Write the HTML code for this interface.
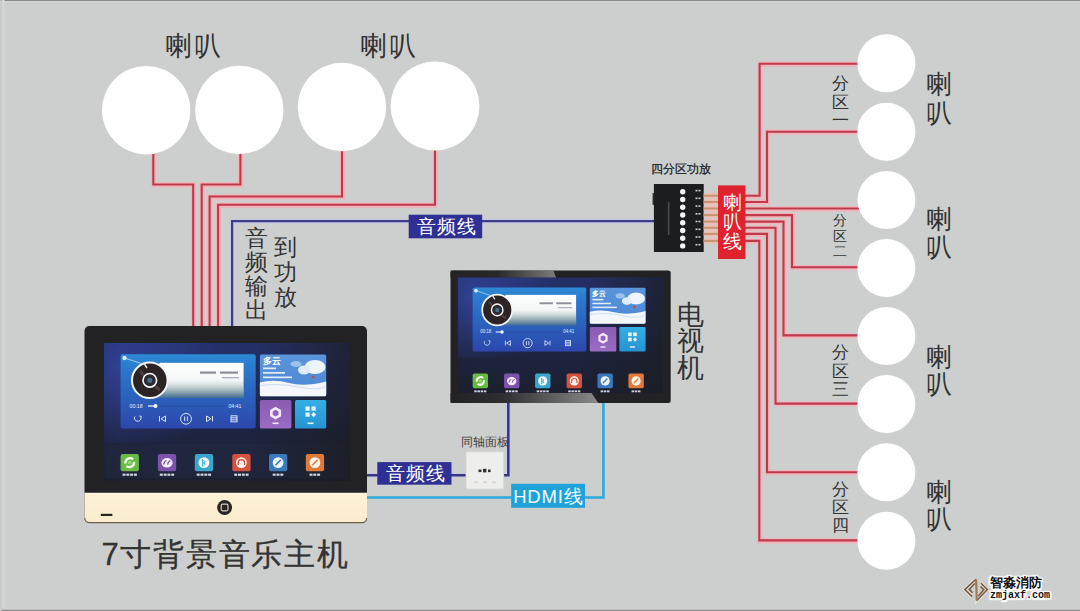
<!DOCTYPE html>
<html><head><meta charset="utf-8">
<style>
html,body{margin:0;padding:0;}
body{width:1080px;height:611px;overflow:hidden;position:relative;background:#cdcfce;font-family:"Liberation Sans",sans-serif;}
svg{position:absolute;left:0;top:0;}
.t{position:absolute;white-space:nowrap;line-height:1;color:#333;}
.v{position:absolute;line-height:1;color:#333;width:1em;word-break:break-all;white-space:normal;}
</style></head><body>
<svg width="1080" height="611" viewBox="0 0 1080 611">
<defs>
  <linearGradient id="mcard" x1="0" y1="0" x2="0" y2="1">
    <stop offset="0" stop-color="#2c8ad6"/><stop offset="0.2" stop-color="#2b78cc"/><stop offset="1" stop-color="#2c47ac"/>
  </linearGradient>
  <linearGradient id="wcard" x1="0" y1="0" x2="0" y2="1">
    <stop offset="0" stop-color="#5b95dc"/><stop offset="1" stop-color="#4a86d4"/>
  </linearGradient>
  <linearGradient id="sea" x1="0" y1="0" x2="0" y2="1">
    <stop offset="0" stop-color="#ffffff"/><stop offset="0.5" stop-color="#f4f6f6"/><stop offset="0.62" stop-color="#d8e0e2"/><stop offset="0.8" stop-color="#a2b8bf"/><stop offset="1" stop-color="#5a86a0"/>
  </linearGradient>
  <linearGradient id="screen" x1="0" y1="0" x2="0" y2="1">
    <stop offset="0" stop-color="#25306a"/><stop offset="0.35" stop-color="#202a55"/><stop offset="0.65" stop-color="#1d2440"/><stop offset="1" stop-color="#1b1f2e"/>
  </linearGradient>
  <linearGradient id="scrfade" x1="0" y1="0" x2="1" y2="0">
    <stop offset="0" stop-color="#1c1d21" stop-opacity="0.1"/><stop offset="0.06" stop-color="#1c1d21" stop-opacity="0"/><stop offset="0.6" stop-color="#1c1d21" stop-opacity="0"/><stop offset="1" stop-color="#1c1d21" stop-opacity="0.7"/>
  </linearGradient>
  <linearGradient id="sheen" x1="0" y1="0" x2="1" y2="0">
    <stop offset="0" stop-color="#222225"/><stop offset="0.45" stop-color="#2a2a2c"/><stop offset="1" stop-color="#8c8c8c"/>
  </linearGradient>
  <linearGradient id="sheen2" x1="0" y1="0" x2="1" y2="0">
    <stop offset="0" stop-color="#222225"/><stop offset="0.35" stop-color="#303032"/><stop offset="1" stop-color="#959595"/>
  </linearGradient>
</defs>
<!-- frame edges -->
<rect x="0" y="0" width="1080" height="1.2" fill="#8a8a8a"/><rect x="0" y="1.2" width="1080" height="1.5" fill="#d6d8d7"/><rect x="0" y="3" width="1080" height="1.2" fill="#c6c8c7" opacity="0.7"/>
<rect x="0" y="609.8" width="1080" height="1.2" fill="#8a8a8a"/><rect x="0" y="0" width="1.5" height="611" fill="#c8cac9"/><rect x="2" y="0" width="2.6" height="609" fill="#d5d7d6"/>

<!-- red wires top -->
<g fill="none" stroke-linejoin="miter">
 <g stroke="#f3b3b9" stroke-width="5.2" transform="translate(0.4,0.4)">
  <path d="M153.3,150 V184.5 H193.2 V326"/>
  <path d="M240.4,150 V184.5 H201.7 V326"/>
  <path d="M342,148 V196.5 H209.6 V326"/>
  <path d="M435,148 V204.7 H218.1 V326"/>
 </g>
 <g stroke="#bd3a4c" stroke-width="2.1">
  <path d="M153.3,150 V184.5 H193.2 V326"/>
  <path d="M240.4,150 V184.5 H201.7 V326"/>
  <path d="M342,148 V196.5 H209.6 V326"/>
  <path d="M435,148 V204.7 H218.1 V326"/>
 </g>
</g>
<!-- blue audio line -->
<path d="M232.1,326 V221.2 H654" fill="none" stroke="#c8c8ee" stroke-width="4"/>
<path d="M232.1,326 V221.2 H654" fill="none" stroke="#3d3e86" stroke-width="2.3"/>

<!-- right wires -->
<g fill="none">
 <g stroke="#f3b3b9" stroke-width="5.2" transform="translate(0.4,0.4)">
  <path d="M740,195.7 H759.6 V63.7 H860"/>
  <path d="M740,202 H767 V131.7 H860"/>
  <path d="M740,208.5 H860"/>
  <path d="M740,215.1 H792 V267.2 H860"/>
  <path d="M740,221.6 H783.5 V335.4 H860"/>
  <path d="M740,227.8 H775.5 V403.6 H860"/>
  <path d="M740,233.9 H767 V472.2 H860"/>
  <path d="M740,240.9 H759.3 V540.4 H860"/>
 </g>
 <g stroke="#bd3a4c" stroke-width="2.1">
  <path d="M740,195.7 H759.6 V63.7 H860"/>
  <path d="M740,202 H767 V131.7 H860"/>
  <path d="M740,208.5 H860"/>
  <path d="M740,215.1 H792 V267.2 H860"/>
  <path d="M740,221.6 H783.5 V335.4 H860"/>
  <path d="M740,227.8 H775.5 V403.6 H860"/>
  <path d="M740,233.9 H767 V472.2 H860"/>
  <path d="M740,240.9 H759.3 V540.4 H860"/>
 </g>
</g>

<!-- top circles -->
<g fill="#ffffff">
 <circle cx="146.2" cy="110.2" r="44.2"/>
 <circle cx="239.3" cy="109.9" r="44.2"/>
 <circle cx="342" cy="107" r="44.2"/>
 <circle cx="435" cy="106" r="44.4"/>
</g>
<!-- right circles -->
<g fill="#ffffff">
 <circle cx="886.4" cy="63.3" r="29"/>
 <circle cx="886.4" cy="131.7" r="29"/>
 <circle cx="886.4" cy="200" r="29"/>
 <circle cx="886.4" cy="268" r="29"/>
 <circle cx="886.4" cy="336" r="29"/>
 <circle cx="886.4" cy="404" r="29"/>
 <circle cx="886.4" cy="472.3" r="29"/>
 <circle cx="886.4" cy="540.8" r="29"/>
</g>

<!-- lower lines: audio (blue) and HDMI (cyan) -->
<path d="M367,475.3 H466 M503.7,475.3 H508.3 V403" fill="none" stroke="#c8c8ee" stroke-width="4.4"/>
<path d="M367,475.3 H466 M503.7,475.3 H508.3 V403" fill="none" stroke="#38397e" stroke-width="2.6"/>
<path d="M367,497.5 H603.4 V403" fill="none" stroke="#2ba8de" stroke-width="2.6"/>

<!-- amp box -->
<rect x="653.9" y="184" width="49.8" height="68" fill="#1b1d1f"/>
<rect x="652.6" y="193" width="1.6" height="12" fill="#2a2c2e"/>
<g fill="#f4f4f4"><circle cx="682.7" cy="191.8" r="2.7"/><circle cx="682.7" cy="199.5" r="2.7"/><circle cx="682.7" cy="207.3" r="2.7"/><circle cx="682.7" cy="215.0" r="2.7"/><circle cx="682.7" cy="222.7" r="2.7"/><circle cx="682.7" cy="230.5" r="2.7"/><circle cx="682.7" cy="238.2" r="2.7"/><circle cx="682.7" cy="245.9" r="2.7"/></g>
<g fill="#cfd0d0"><rect x="695.5" y="189.8" width="2" height="1.6"/><rect x="698.5" y="189.8" width="2" height="1.6"/><rect x="695.5" y="197.5" width="2" height="1.6"/><rect x="698.5" y="197.5" width="2" height="1.6"/><rect x="695.5" y="205.3" width="2" height="1.6"/><rect x="698.5" y="205.3" width="2" height="1.6"/><rect x="695.5" y="213.0" width="2" height="1.6"/><rect x="698.5" y="213.0" width="2" height="1.6"/><rect x="695.5" y="220.7" width="2" height="1.6"/><rect x="698.5" y="220.7" width="2" height="1.6"/><rect x="695.5" y="228.5" width="2" height="1.6"/><rect x="698.5" y="228.5" width="2" height="1.6"/><rect x="695.5" y="236.2" width="2" height="1.6"/><rect x="698.5" y="236.2" width="2" height="1.6"/><rect x="695.5" y="243.9" width="2" height="1.6"/><rect x="698.5" y="243.9" width="2" height="1.6"/></g>
<rect x="667.8" y="202" width="1.6" height="33" fill="#55585a" opacity="0.8"/>
<!-- amp connectors -->
<g stroke="#efbcb4" stroke-width="5.4"><path d="M703.7,195.7 H719"/><path d="M703.7,202 H719"/><path d="M703.7,208.5 H719"/><path d="M703.7,215.1 H719"/><path d="M703.7,221.6 H719"/><path d="M703.7,227.8 H719"/><path d="M703.7,233.9 H719"/><path d="M703.7,240.9 H719"/></g>
<g stroke="#c49470" stroke-width="2"><path d="M703.7,195.7 H719"/><path d="M703.7,202 H719"/><path d="M703.7,208.5 H719"/><path d="M703.7,215.1 H719"/><path d="M703.7,221.6 H719"/><path d="M703.7,227.8 H719"/><path d="M703.7,233.9 H719"/><path d="M703.7,240.9 H719"/></g>
<!-- speaker wire label -->
<rect x="718" y="185.4" width="27.5" height="73.6" fill="#e0222e"/>

<!-- ===== host device ===== -->
<defs>
 <symbol id="scr" viewBox="0 0 246 138" preserveAspectRatio="none">
  <!-- music card -->
  <rect x="16.6" y="11.3" width="135.1" height="74.3" rx="2" fill="url(#mcard)"/>
  <rect x="55.5" y="19.8" width="84.1" height="35.2" fill="url(#sea)"/>
  <rect x="55.5" y="42" width="84.1" height="13" fill="url(#sea2)" opacity="0.6"/>
  <g fill="#8b8f98"><rect x="96" y="28.5" width="16" height="2.2"/><rect x="116" y="28.5" width="18" height="2.2"/><rect x="118" y="34" width="17" height="1.3" fill="#aab"/></g>
  <path d="M20.5,15 L42,22" stroke="#bfe0ff" stroke-width="0.8"/>
  <circle cx="20.5" cy="15" r="2.2" fill="#d8ecff"/>
  <circle cx="45.8" cy="37.3" r="17.8" fill="#2c2325" stroke="#f2f6fa" stroke-width="2"/>
  <path d="M36,28 Q46,40 56,47" stroke="#6a5856" stroke-width="3" opacity="0.5" fill="none"/>
  <circle cx="45.8" cy="37.3" r="6.8" fill="#2a2a30" stroke="#f4f6f8" stroke-width="1.7"/>
  <circle cx="45.8" cy="37.3" r="2.6" fill="#4a6a8a"/>
  <path d="M39.5,19.5 L43,25" stroke="#e8e8e8" stroke-width="1.4"/>
  <text x="25.6" y="64.6" font-size="5.2" fill="#e6eefc" font-family="Liberation Sans">00:18</text>
  <path d="M44,63 H122" stroke="#2a4aa0" stroke-width="0.8"/>
  <path d="M44,63 H51" stroke="#ffffff" stroke-width="1.2"/>
  <circle cx="51.5" cy="63" r="2" fill="#ffffff"/>
  <text x="124.4" y="64.6" font-size="5.2" fill="#e6eefc" font-family="Liberation Sans">04:41</text>
  <g stroke="#d8e6fb" stroke-width="1" fill="none">
   <path d="M31,73.5 a3.3,3 0 1 0 6,1.5"/><path d="M35.5,73 l1.8,0.3 l-0.4,1.6"/>
   <path d="M55.5,73 v5.5 M61.5,73 l-4.5,2.75 l4.5,2.75 z"/>
   <circle cx="82" cy="75.8" r="5.4"/><path d="M80.6,73.5 v4.6 M83.4,73.5 v4.6"/>
   <path d="M108.5,73 v5.5 M102.5,73 l4.5,2.75 l-4.5,2.75 z"/>
   <rect x="127" y="72.8" width="6" height="6"/><path d="M127,74.8 h6 M127,76.8 h6"/>
  </g>
  <!-- weather -->
  <rect x="155.9" y="11.5" width="66.3" height="41.7" rx="1.5" fill="url(#wcard)"/>
  <path d="M155.9,39.5 Q170,36 185,40 T222.2,38.5 V51.7 a1.5,1.5 0 0 1 -1.5,1.5 H157.4 a1.5,1.5 0 0 1 -1.5,-1.5 z" fill="#f3f7fc"/>
  <path d="M155.9,42.5 Q175,40 195,44 T222.2,43" fill="none" stroke="#cfe0f4" stroke-width="1.2"/>
  <ellipse cx="211" cy="24" rx="10.5" ry="7" fill="#eef4fb"/>
  <ellipse cx="200" cy="27" rx="6" ry="4.5" fill="#e2ecf8"/>
  <ellipse cx="192" cy="21" rx="5.5" ry="3" fill="#9fc2ec"/>
  <circle cx="209" cy="34" r="1.5" fill="#d04848"/>
  <text x="159" y="20.8" font-size="8.5" fill="#ffffff" font-weight="bold">多云</text>
  <g fill="#e4eefb"><rect x="159" y="24.5" width="13" height="1.7"/><rect x="159" y="29" width="22" height="1.7"/><rect x="159" y="33.5" width="29" height="1.7"/></g>
  <!-- tiles -->
  <rect x="155.9" y="57" width="31.5" height="28.6" rx="1.5" fill="url(#purp)"/>
  <path d="M171.6,65.3 l4.2,2.4 v4.9 l-4.2,2.4 l-4.2,-2.4 v-4.9 z" fill="none" stroke="#f4eafc" stroke-width="2.6"/>
  <rect x="168.5" y="79.5" width="6" height="1.6" fill="#f0e6f8"/>
  <rect x="191" y="57" width="31.2" height="28.6" rx="1.5" fill="url(#cyan)"/>
  <g fill="#eaf6fc"><rect x="201.5" y="63.5" width="4.2" height="4.2"/><rect x="207.5" y="63.5" width="4.2" height="4.2"/><rect x="201.5" y="69.5" width="4.2" height="4.2"/><path d="M209.6,69 l2.5,2.6 l-2.5,2.6 l-2.5,-2.6 z"/><rect x="203.5" y="79.5" width="6" height="1.6"/></g>
  <!-- dock icons -->
  <g>
   <rect x="16.6" y="111" width="18.3" height="17.2" rx="2" fill="#68ba44"/>
   <rect x="53.9" y="111" width="18.3" height="17.2" rx="2" fill="#7d52aa"/>
   <rect x="90.8" y="111" width="18.3" height="17.2" rx="2" fill="#3aa6cc"/>
   <rect x="128.3" y="111" width="18.3" height="17.2" rx="2" fill="#d6523e"/>
   <rect x="165" y="111" width="18.3" height="17.2" rx="2" fill="#3b78bc"/>
   <rect x="201.8" y="111" width="18.3" height="17.2" rx="2" fill="#df7a3a"/>
  </g>
  <g fill="none" stroke="#f4fff0" stroke-width="2.4">
   <path d="M21.5,120.5 a4.6,4.6 0 0 1 7.5,-4.2"/><path d="M30,118.8 a4.6,4.6 0 0 1 -7.5,4.2"/>
  </g>
  <circle cx="25.7" cy="119.6" r="1.8" fill="#9ad878"/>
  <ellipse cx="63" cy="119.8" rx="5.6" ry="4.8" fill="#f6eefc"/>
  <path d="M59.5,121.5 q1.5,-4 3,-3.5 M63.5,121.5 q1.5,-4 3,-3.5" stroke="#7d52aa" stroke-width="1.3" fill="none"/>
  <circle cx="99.9" cy="119.6" r="5.4" fill="#eefaff"/>
  <path d="M98.4,116.6 l3,2.2 l-3,2.2 M98.4,116.2 v7 l3,-2.2 l-3,-2.2" stroke="#3aa6cc" stroke-width="0.9" fill="none"/>
  <circle cx="137.4" cy="119.6" r="5.4" fill="#fff2ee"/>
  <path d="M134.2,122 v-2 a3.2,3.2 0 0 1 6.4,0 v2" stroke="#d6523e" stroke-width="1.4" fill="none"/>
  <circle cx="174.1" cy="119.6" r="5.4" fill="#eef4fc"/>
  <path d="M171.4,122.3 l5.4,-5.4" stroke="#3b78bc" stroke-width="1.5"/>
  <circle cx="210.9" cy="119.6" r="5.4" fill="#fff4ea"/>
  <path d="M208.2,122.3 l5.4,-5.4" stroke="#df7a3a" stroke-width="1.5"/>
  <g fill="#e2e6ee" opacity="0.9">
   <rect x="18.5" y="130.6" width="3" height="2.2"/><rect x="22.3" y="130.6" width="3" height="2.2"/><rect x="26.1" y="130.6" width="3" height="2.2"/><rect x="29.9" y="130.6" width="3" height="2.2"/>
   <rect x="55.8" y="130.6" width="3" height="2.2"/><rect x="59.6" y="130.6" width="3" height="2.2"/><rect x="63.4" y="130.6" width="3" height="2.2"/><rect x="67.2" y="130.6" width="3" height="2.2"/>
   <rect x="92.7" y="130.6" width="3" height="2.2"/><rect x="96.5" y="130.6" width="3" height="2.2"/><rect x="100.3" y="130.6" width="3" height="2.2"/><rect x="104.1" y="130.6" width="3" height="2.2"/>
   <rect x="130.2" y="130.6" width="3" height="2.2"/><rect x="134" y="130.6" width="3" height="2.2"/><rect x="137.8" y="130.6" width="3" height="2.2"/><rect x="141.6" y="130.6" width="3" height="2.2"/>
   <rect x="168.7" y="130.6" width="3" height="2.2"/><rect x="172.5" y="130.6" width="3" height="2.2"/><rect x="176.3" y="130.6" width="3" height="2.2"/>
   <rect x="205.5" y="130.6" width="3" height="2.2"/><rect x="209.3" y="130.6" width="3" height="2.2"/><rect x="213.1" y="130.6" width="3" height="2.2"/>
  </g>
 </symbol>
 <linearGradient id="sea2" x1="0" y1="0" x2="0" y2="1">
  <stop offset="0" stop-color="#c8d6da" stop-opacity="0"/><stop offset="0.4" stop-color="#9fb2b8"/><stop offset="1" stop-color="#2f5f86"/>
 </linearGradient>
 <linearGradient id="purp" x1="0" y1="0" x2="0" y2="1"><stop offset="0" stop-color="#8a5bb2"/><stop offset="1" stop-color="#9c6cc4"/></linearGradient>
 <linearGradient id="cyan" x1="0" y1="0" x2="0" y2="1"><stop offset="0" stop-color="#34b0e4"/><stop offset="1" stop-color="#2692d2"/></linearGradient>
 <radialGradient id="scrglow" cx="0.1" cy="0.25" r="0.9"><stop offset="0" stop-color="#3446a4" stop-opacity="0.75"/><stop offset="1" stop-color="#3446a4" stop-opacity="0"/></radialGradient>
 <linearGradient id="cream" x1="0" y1="0" x2="0" y2="1"><stop offset="0" stop-color="#fdf4de"/><stop offset="0.15" stop-color="#fdf1d6"/><stop offset="1" stop-color="#fcecce"/></linearGradient>
</defs>
<path d="M89.5,326 H362 a5,5 0 0 1 5,5 V518 a5,5 0 0 1 -5,5 H89.5 a5,5 0 0 1 -5,-5 V331 a5,5 0 0 1 5,-5 z" fill="#222224"/>
<path d="M84.5,492.7 H367 V518 a5,5 0 0 1 -5,5 H89.5 a5,5 0 0 1 -5,-5 z" fill="url(#cream)"/>
<path d="M84.8,518 a4.7,4.7 0 0 0 4.7,4.6 H362 a4.7,4.7 0 0 0 4.7,-4.6" fill="none" stroke="#6e5e4a" stroke-width="1.1"/>
<rect x="104" y="343" width="246" height="138" fill="url(#screen)"/>
<rect x="104" y="343" width="120" height="100" fill="url(#scrglow)"/>
<rect x="104.5" y="443.7" width="244" height="34.5" fill="#202840" opacity="0.8"/>
<rect x="104" y="343" width="246" height="138" fill="url(#scrfade)"/>
<use href="#scr" x="104" y="343" width="246" height="138"/>
<circle cx="224.6" cy="507.5" r="7.4" fill="#2a2420"/>
<rect x="221.2" y="504.2" width="6.8" height="6.6" rx="1.5" fill="none" stroke="#d8d0c0" stroke-width="1.2"/>
<rect x="100.8" y="513.8" width="11.6" height="2.2" fill="#2a2620"/>

<!-- ===== TV ===== -->
<rect x="450.5" y="270.4" width="220.2" height="132.6" rx="2.5" fill="#222225"/>
<path d="M450.5,270.4 H553.5 L556,277.8 H450.5 z" fill="url(#sheen)" opacity="0.85"/>
<rect x="457.9" y="277.6" width="204.7" height="115.5" fill="url(#screen)"/>
<rect x="457.9" y="277.6" width="100" height="80" fill="url(#scrglow)"/>
<rect x="457.9" y="277.6" width="204.7" height="115.5" fill="url(#scrfade)"/>
<use href="#scr" x="458.7" y="277.76" width="206.9" height="119"/>
<path d="M450.5,393.1 H591.5 L598.3,403 H450.5 z" fill="url(#sheen2)" opacity="0.9"/>

<!-- labels -->
<rect x="408.7" y="214.7" width="73.5" height="23.6" fill="#2f3094"/>
<rect x="377.3" y="462.1" width="74.2" height="22.6" fill="#2f3094"/>
<rect x="511.2" y="483.8" width="73.8" height="24" fill="#1fa2da"/>
<!-- coax panel -->
<rect x="466" y="451.8" width="37.7" height="37.2" fill="#eeeeec"/>
<rect x="466" y="451.8" width="37.7" height="37.2" fill="none" stroke="#d6d6d4" stroke-width="0.8"/>
<rect x="478.5" y="469.5" width="3" height="2.6" fill="#333"/><rect x="483" y="468.8" width="3.4" height="3.6" fill="#333"/><rect x="488" y="469.5" width="2.6" height="2.6" fill="#333"/>
<g fill="#d2d2d0"><rect x="474" y="481.5" width="4" height="1.5"/><rect x="483" y="481.5" width="4" height="1.5"/><rect x="492" y="481.5" width="4" height="1.5"/></g>

<!-- watermark logo -->
<g fill="none" stroke="#f4efe6" stroke-width="3.6" stroke-linejoin="miter" opacity="0.55">
 <path d="M976.2,579 L964.8,589.6 L972.2,596.6 M976.2,579 L976.6,600.8 L987.4,589.6 L981,583.2"/>
</g>
<g fill="none" stroke="#7a5a3c" stroke-width="1.5" stroke-linejoin="miter">
 <path d="M976.2,579 L964.8,589.6 L972.2,596.6"/>
 <path d="M974.8,583.6 L969.2,589.4 L972.6,592.8"/>
 <path d="M976.6,600.8 L987.4,589.6 L981,583.2"/>
 <path d="M978.2,596.2 L983.8,589.8 L980.6,586.6"/>
</g>
<path d="M975,579.5 L977.4,579.5 L977.8,600.5 L975.6,600.5 z" fill="#9a7a58"/>
</svg>

<!-- texts -->
<div class="t" style="left:165px;top:33px;font-size:26.5px;letter-spacing:2px;">喇叭</div>
<div class="t" style="left:360px;top:33px;font-size:26.5px;letter-spacing:2px;">喇叭</div>
<div class="v" style="left:245px;top:225.8px;font-size:23px;line-height:24.2px;">音频输出</div>
<div class="v" style="left:274px;top:235.3px;font-size:23px;line-height:25px;">到功放</div>
<div class="t" style="left:650.5px;top:163px;font-size:12px;color:#222;-webkit-text-stroke:0.25px #222;">四分区功放</div>
<div class="v" style="left:722.5px;top:193px;font-size:19px;line-height:19.3px;color:#fff;">喇叭线</div>
<div class="v" style="left:832.3px;top:75.2px;font-size:17px;line-height:18.4px;color:#333;">分区一</div>
<div class="v" style="left:833.3px;top:213px;font-size:14px;line-height:15.6px;color:#333;">分区二</div>
<div class="v" style="left:832.3px;top:344px;font-size:17px;line-height:18.5px;color:#333;">分区三</div>
<div class="v" style="left:832.3px;top:480.6px;font-size:17px;line-height:18px;color:#333;">分区四</div>
<div class="v" style="left:926.3px;top:70px;font-size:26px;line-height:28.5px;">喇叭</div>
<div class="v" style="left:926.3px;top:206.3px;font-size:26px;line-height:27.5px;">喇叭</div>
<div class="v" style="left:926.3px;top:344.1px;font-size:26px;line-height:27px;">喇叭</div>
<div class="v" style="left:926.3px;top:478.6px;font-size:26px;line-height:27.5px;">喇叭</div>
<div class="v" style="left:676.5px;top:301.5px;font-size:27px;line-height:26.8px;">电视机</div>
<div class="t" style="left:101.5px;top:538.5px;font-size:31px;letter-spacing:1.7px;-webkit-text-stroke:0.3px #333;">7寸背景音乐主机</div>
<div class="t" style="left:461px;top:437px;font-size:11.5px;color:#444;">同轴面板</div>
<div class="t" style="left:416.5px;top:217.5px;font-size:18.6px;letter-spacing:1px;color:#fff;">音频线</div>
<div class="t" style="left:385.5px;top:465px;font-size:18.6px;letter-spacing:1px;color:#fff;">音频线</div>
<div class="t" style="left:513.2px;top:488.3px;font-size:18.5px;letter-spacing:0.8px;color:#f4fcff;">HDMI线</div>

<div class="t" style="left:989.5px;top:576.3px;font-size:13px;font-weight:bold;color:#111;text-shadow:1.5px 0 1px #fff,-1.5px 0 1px #fff,0 1.5px 1px #fff,0 -1.5px 1px #fff,1.5px 1.5px 1px #fff,-1.5px -1.5px 1px #fff,1.5px -1.5px 1px #fff,-1.5px 1.5px 1px #fff,0 0 3px #fff;">智淼消防</div>
<div class="t" style="left:990px;top:591.3px;font-size:10px;font-weight:bold;font-family:'Liberation Mono',monospace;color:#111;text-shadow:1.5px 0 1px #fff,-1.5px 0 1px #fff,0 1.5px 1px #fff,0 -1.5px 1px #fff,1.5px 1.5px 1px #fff,-1.5px -1.5px 1px #fff,1.5px -1.5px 1px #fff,-1.5px 1.5px 1px #fff,0 0 3px #fff;">zmjaxf.com</div>
</body></html>
